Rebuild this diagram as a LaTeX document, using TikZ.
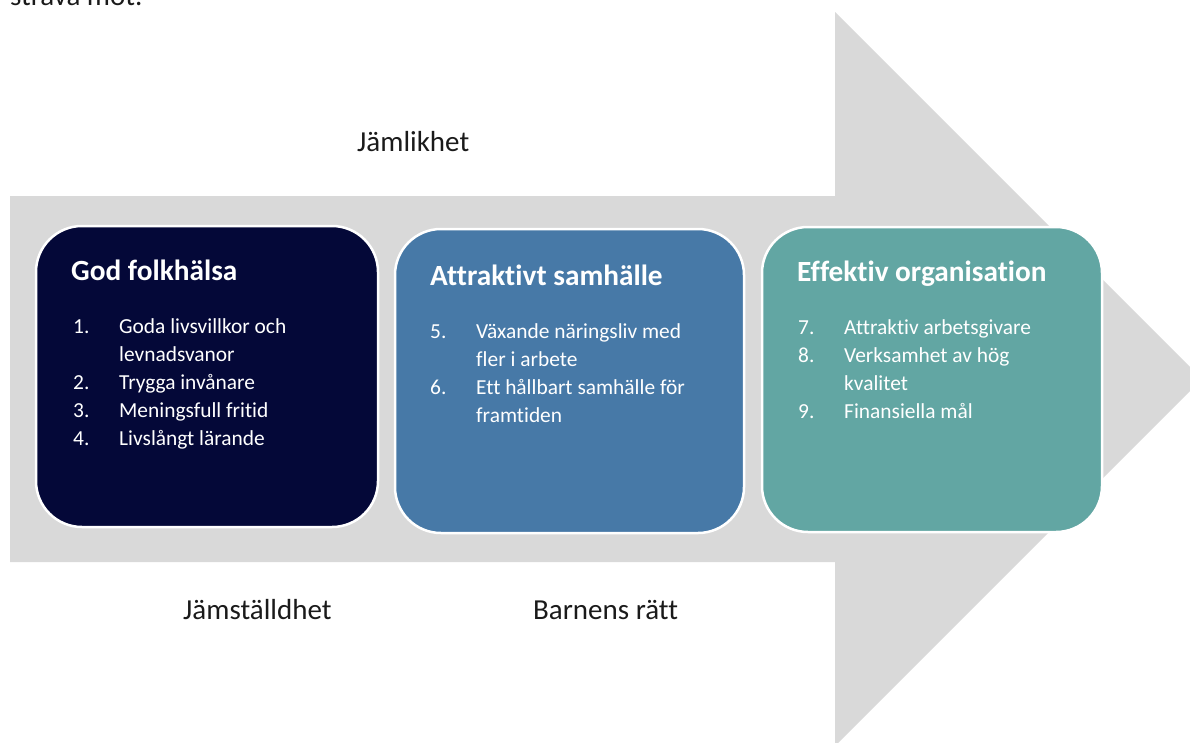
\documentclass[tikz,border=0pt]{standalone}
\usepackage{fontspec}
\setmainfont{Carlito}[Ligatures=NoCommon]
\usepackage{array}
\definecolor{arrowgray}{HTML}{D9D9D9}
\definecolor{navy}{HTML}{040838}
\definecolor{steel}{HTML}{4779A7}
\definecolor{teal}{HTML}{62A6A3}
\definecolor{labelgray}{HTML}{1A1A1A}
\tikzset{
  card/.style={draw=white, line width=2.5pt, rounded corners=46pt, inner sep=0pt},
  cardtitle/.style={anchor=base west, inner sep=0pt, text=white, font=\bfseries\fontsize{29.3}{34}\selectfont},
  cardlist/.style={anchor=base west, inner sep=0pt, text=white, font=\fontsize{21.4}{28}\selectfont},
  lbl/.style={anchor=base west, inner sep=0pt, text=labelgray, font=\fontsize{29}{34}\selectfont}
}
\newcommand{\itemlist}[1]{\begin{tabular}[t]{@{}p{46pt}@{}l@{}}#1\end{tabular}}
\begin{document}
\begin{tikzpicture}[x=1pt,y=-1pt]
\useasboundingbox (0,0) rectangle (1190,742);
\clip (0,0) rectangle (1190,742);
% big arrow
\fill[arrowgray] (10,196) -- (835,196) -- (835,12) -- (1202,379) -- (835,746) -- (835,562) -- (10,562) -- cycle;
% cut-off text at top
\node[lbl] (top) at (10,5) {sträva mot.};
% cards
\node[card, fill=navy, minimum width=342pt, minimum height=301pt] (c1) at (207,376.5) {};
\node[card, fill=steel, minimum width=349pt, minimum height=304pt] (c2) at (569.5,381) {};
\node[card, fill=teal, minimum width=340pt, minimum height=305pt] (c3) at (932,379.5) {};
% titles
\node[cardtitle] (t1) at (71,280) {God folkhälsa};
\node[cardtitle] (t2) at (430,285) {Attraktivt samhälle};
\node[cardtitle] (t3) at (797,281) {Effektiv organisation};
% lists
\node[cardlist] (l1) at (73,333) {\itemlist{1. & Goda livsvillkor och\\ & levnadsvanor\\ 2. & Trygga invånare\\ 3. & Meningsfull fritid\\ 4. & Livslångt lärande}};
\node[cardlist] (l2) at (430,338) {\itemlist{5. & Växande näringsliv med\\ & fler i arbete\\ 6. & Ett hållbart samhälle för\\ & framtiden}};
\node[cardlist] (l3) at (798,334) {\itemlist{7. & Attraktiv arbetsgivare\\ 8. & Verksamhet av hög\\ & kvalitet\\ 9. & Finansiella mål}};
% labels
\node[lbl] (jl) at (357,151) {Jämlikhet};
\node[lbl] (js) at (183,619) {Jämställdhet};
\node[lbl] (br) at (533,619) {Barnens rätt};
\end{tikzpicture}
\end{document}
